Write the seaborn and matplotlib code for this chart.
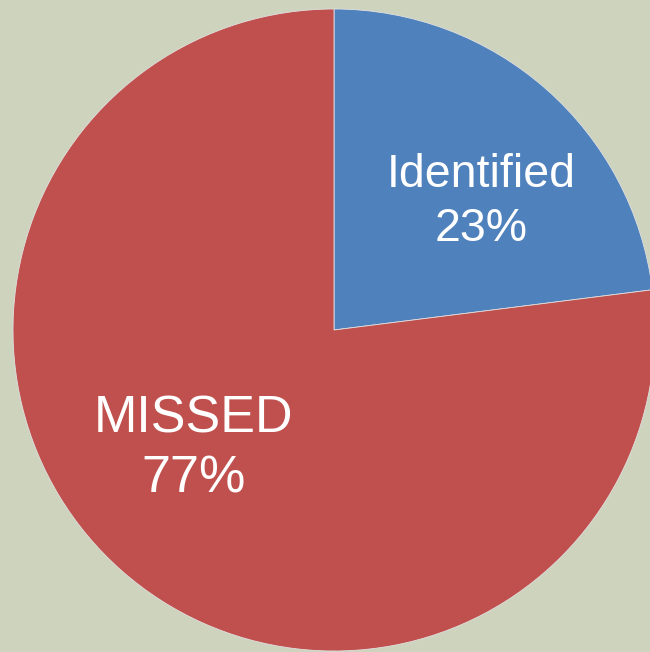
import matplotlib
matplotlib.use('Agg')
import matplotlib.pyplot as plt
import seaborn as sns

#---- dados
categorias = ['Identified', 'MISSED']
percentuais = [23, 77]
cores = ['#4f81bd', '#c0504d']

sns.set_style('white')
plt.rcParams['font.family'] = ['Liberation Sans', 'DejaVu Sans']

fundo = '#cdd3bd'
fig = plt.figure(figsize=(6.5, 6.52), dpi=100, facecolor=fundo)
ax = fig.add_axes([0, 0, 1, 1])
ax.set_facecolor(fundo)

ax.pie(percentuais, colors=cores, startangle=90, counterclock=False,
       radius=1, center=(0, 0),
       wedgeprops={'edgecolor': '#e0e0e0', 'linewidth': 0.6})

# rotulos dentro das fatias
escala = 321
ax.text((481 - 334) / escala, (330 - 202) / escala,
        f'{categorias[0]}\n{percentuais[0]}%', color='white', fontsize=33.5,
        ha='center', va='center', linespacing=1.3)
ax.text((194 - 334) / escala, (330 - 449) / escala,
        f'{categorias[1]}\n{percentuais[1]}%', color='white', fontsize=37.5,
        ha='center', va='center', linespacing=1.28)

ax.set_xlim(-334 / escala, (650 - 334) / escala)
ax.set_ylim(-(652 - 330) / escala, 330 / escala)
ax.set_aspect('auto')
ax.axis('off')

fig.savefig('out.png', dpi=100, facecolor=fundo)
